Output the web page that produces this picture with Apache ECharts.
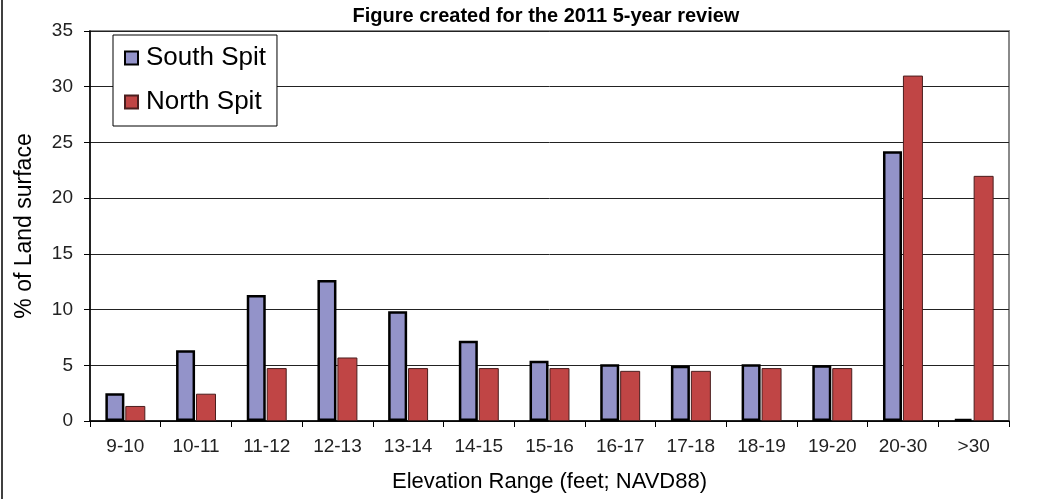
<!DOCTYPE html>
<html>
<head>
<meta charset="utf-8">
<script src="https://cdn.jsdelivr.net/npm/echarts@6/dist/echarts.min.js"></script>
<style>
html,body{margin:0;padding:0;background:#fff;}
#chart{width:1038px;height:499px;}
</style>
</head>
<body>
<div id="chart"></div>
<script>
const categories = ['9-10','10-11','11-12','12-13','13-14','14-15','15-16','16-17','17-18','18-19','19-20','20-30','>30'];
const southSpit = [2.5, 6.35, 11.3, 12.65, 9.85, 7.2, 5.4, 5.1, 4.95, 5.1, 5.0, 24.2, 0.2];
const northSpit = [1.35, 2.45, 4.75, 5.7, 4.75, 4.75, 4.75, 4.5, 4.5, 4.75, 4.75, 31.0, 22.0];
const yTicks = { min: 0, max: 35, interval: 5 };

const font = '"Liberation Sans", Arial, sans-serif';
const chart = echarts.init(document.getElementById('chart'), null, { renderer: 'canvas' });
chart.setOption({
  animation: false,
  backgroundColor: '#fff',
  title: {
    text: 'Figure created for the 2011 5-year review',
    left: 541, top: 1, textAlign: 'center',
    textStyle: { fontFamily: '"Liberation Sans Narrow", "Liberation Sans", Arial, sans-serif', fontWeight: 'bold', fontSize: 20, color: '#000' }
  },
  grid: { left: 90, right: 29, top: 31, bottom: 78, show: true, borderColor: '#8a8a8a', borderWidth: 2, backgroundColor: 'transparent' },
  legend: {
    orient: 'vertical', left: 113, top: 35,
    padding: [10, 11, 11, 11], itemGap: 18,
    itemWidth: 13, itemHeight: 13,
    backgroundColor: '#fff', borderColor: '#000', borderWidth: 1, borderRadius: 0,
    textStyle: { fontFamily: font, fontSize: 26, color: '#000', lineHeight: 26, padding: [0, 0, 0, 3] },
    icon: 'rect',
    data: ['South Spit', 'North Spit']
  },
  xAxis: {
    type: 'category', data: categories,
    name: 'Elevation Range (feet; NAVD88)', nameLocation: 'middle', nameGap: 50,
    nameTextStyle: { fontFamily: font, fontSize: 22, color: '#000' },
    axisLine: { lineStyle: { color: '#000', width: 1.5 } },
    axisTick: { show: true, length: 6, inside: false, lineStyle: { color: '#000' } },
    axisLabel: { fontFamily: font, fontSize: 19, color: '#222', margin: 16 }
  },
  yAxis: {
    type: 'value', min: yTicks.min, max: yTicks.max, interval: yTicks.interval,
    name: '% of Land surface', nameLocation: 'middle', nameGap: 54, nameRotate: 90,
    nameTextStyle: { fontFamily: font, fontSize: 23, color: '#000' },
    axisLine: { show: true, lineStyle: { color: '#000', width: 1.5 } },
    axisTick: { show: true, length: 6, lineStyle: { color: '#000' } },
    axisLabel: { fontFamily: font, fontSize: 19, color: '#222', margin: 17 },
    splitLine: { show: true, lineStyle: { color: '#222', width: 1 } }
  },
  series: [
    {
      name: 'South Spit', type: 'bar', data: southSpit,
      barWidth: 19, barGap: '5%',
      itemStyle: { color: '#9393C9', borderColor: '#000', borderWidth: 2.5 }
    },
    {
      name: 'North Spit', type: 'bar', data: northSpit,
      barWidth: 20,
      itemStyle: { color: '#C04545', borderColor: '#4a1e1e', borderWidth: 1 }
    }
  ],
  graphic: [
    { type: 'line', shape: { x1: 2, y1: 0, x2: 2, y2: 499 }, style: { stroke: '#000', lineWidth: 1.5 } }
  ]
});
</script>
</body>
</html>
